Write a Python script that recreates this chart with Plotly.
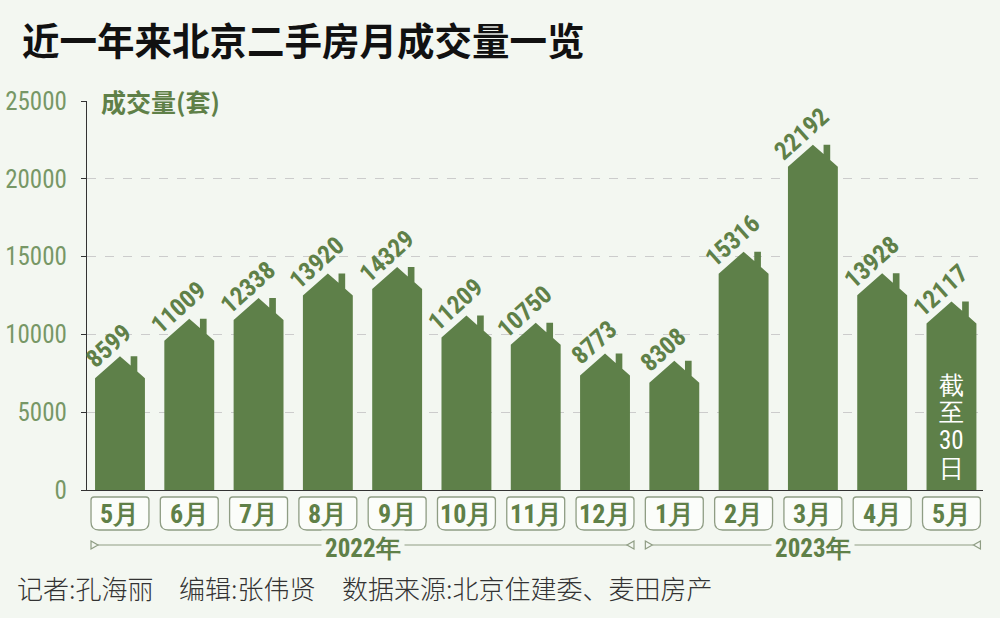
import plotly.graph_objects as go

months = ["5月", "6月", "7月", "8月", "9月", "10月", "11月", "12月", "1月", "2月", "3月", "4月", "5月"]
volumes = [8599, 11009, 12338, 13920, 14329, 11209, 10750, 8773, 8308, 15316, 22192, 13928, 12117]
years = ["2022年", "2023年"]
year_spans = [(0, 7), (8, 12)]
y_ticks = [0, 5000, 10000, 15000, 20000, 25000]
note_lines = ["截", "至", "30", "日"]

BG = "#f3f7f1"
BAR = "#5e8049"
GREEN = "#5f8048"
TICKGREEN = "#779766"
LINEC = "#8f9d84"
NARROW = "Liberation Sans Narrow, Arial Narrow, Roboto Condensed, Roboto, sans-serif"
CJK = "Noto Sans CJK SC, sans-serif"

# plot geometry (pixels)
L, T, B = 87, 101, 490
W = 896.5
H = B - T
XMIN, XMAX = -0.476, 12.455
YMAX = 25000

def px(i):
    return (i - XMIN) / (XMAX - XMIN)

def py(pix):
    return (B - pix) / H

HALF = 0.36
ROOF = 22 / H * YMAX
CH0, CH1 = 0.154, 0.25

xs, ys = [], []
for i, v in enumerate(volumes):
    e = v - ROOF
    pts = [(i - HALF, 0), (i - HALF, e), (i, v),
           (i + CH0, v - ROOF * CH0 / HALF), (i + CH0, v), (i + CH1, v),
           (i + CH1, v - ROOF * CH1 / HALF), (i + HALF, e), (i + HALF, 0)]
    for a, b in pts:
        xs.append(a); ys.append(b)
    xs.append(None); ys.append(None)

fig = go.Figure()
fig.add_trace(go.Scatter(x=xs, y=ys, mode="lines", fill="toself", fillcolor=BAR,
                         line=dict(width=0, color=BAR), hoverinfo="skip", showlegend=False))

ann = []
# value labels
for i, v in enumerate(volumes):
    ann.append(dict(x=i, y=v, xref="x", yref="y", text=str(v), textangle=-42, showarrow=False,
                    xanchor="center", yanchor="middle",
                    xshift=-11, yshift=11, font=dict(family=NARROW, size=25, color=GREEN, weight="bold")))
# month labels
shapes = []
for i, m in enumerate(months):
    ann.append(dict(x=i, y=py(514), xref="x", yref="paper", text=m, showarrow=False,
                    xanchor="center", yanchor="middle",
                    font=dict(family=NARROW, size=26, color=GREEN, weight="bold")))
    x0, x1 = px(i - 0.418), px(i + 0.418)
    yt, yb = py(497), py(530)
    rtx, rty = 3 / W, 3 / H
    rbx, rby = 8 / W, 8 / H
    path = (f"M {x0+rtx},{yt} L {x1-rtx},{yt} Q {x1},{yt} {x1},{yt-rty} "
            f"L {x1},{yb+rby} Q {x1},{yb} {x1-rbx},{yb} L {x0+rbx},{yb} "
            f"Q {x0},{yb} {x0},{yb+rby} L {x0},{yt-rty} Q {x0},{yt} {x0+rtx},{yt} Z")
    shapes.append(dict(type="path", xref="paper", yref="paper", path=path,
                       line=dict(color=LINEC, width=1.3), fillcolor="#fbfdfa", layer="below"))

# year brackets
yl = py(545)
for (a, b), yr in zip(year_spans, years):
    xa, xb = px(a - 0.418), px(b + 0.418)
    tw, th = 7 / W, 4 / H
    shapes.append(dict(type="line", xref="paper", yref="paper", x0=xa + tw, x1=xb - tw, y0=yl, y1=yl,
                       line=dict(color=LINEC, width=1.2)))
    shapes.append(dict(type="path", xref="paper", yref="paper",
                       path=f"M {xa},{yl+th} L {xa+tw},{yl} L {xa},{yl-th} Z",
                       line=dict(color=LINEC, width=1.2), fillcolor=BG))
    shapes.append(dict(type="path", xref="paper", yref="paper",
                       path=f"M {xb},{yl+th} L {xb-tw},{yl} L {xb},{yl-th} Z",
                       line=dict(color=LINEC, width=1.2), fillcolor=BG))
    ann.append(dict(x=(xa + xb) / 2, y=py(548), xref="paper", yref="paper", text=yr, showarrow=False,
                    xanchor="center", yanchor="middle", bgcolor=BG, borderpad=3,
                    font=dict(family=NARROW, size=25, color=GREEN, weight="bold")))

# note in last bar
last = len(volumes) - 1
for k, t in enumerate(note_lines):
    ann.append(dict(x=last, y=py(385 + 27.7 * k), xref="x", yref="paper", text=t, showarrow=False,
                    xanchor="center", yanchor="middle",
                    font=dict(family=NARROW, size=25, color="white")))

# title, axis title, footer
ann.append(dict(x=(20 - L) / W, y=py(38), xref="paper", yref="paper", xanchor="left", yanchor="middle",
                showarrow=False, text="近一年来北京二手房月成交量一览",
                font=dict(family=CJK, size=37.5, color="#111111", weight="bold")))
ann.append(dict(x=(96 - L) / W, y=1, xref="paper", yref="paper", xanchor="left", yanchor="middle",
                showarrow=False, text="成交量(套)", bgcolor=BG, borderpad=4,
                font=dict(family=CJK, size=25, color=GREEN, weight="bold")))
for xp, t in [(15, "记者:孔海丽"), (177, "编辑:张伟贤"), (340, "数据来源:北京住建委、麦田房产")]:
    ann.append(dict(x=(xp - L) / W, y=py(587), xref="paper", yref="paper", xanchor="left", yanchor="middle",
                    showarrow=False, text=t, font=dict(family=CJK, size=26, color="#333333", weight=300)))

fig.update_layout(
    width=1000, height=618, paper_bgcolor=BG, plot_bgcolor=BG,
    margin=dict(l=L, r=1000 - L - W, t=T, b=618 - B, autoexpand=False),
    showlegend=False, annotations=ann, shapes=shapes,
    xaxis=dict(range=[XMIN, XMAX], showgrid=False, zeroline=False, showticklabels=False,
               showline=True, linecolor="#333333", linewidth=1.2, ticks=""),
    yaxis=dict(range=[0, YMAX], tickvals=y_ticks, ticktext=[str(t) for t in y_ticks],
               showgrid=True, gridcolor="#cccccc", griddash="dash", gridwidth=1,
               zeroline=False, showline=True, linecolor="#333333", linewidth=1.2,
               ticks="outside", ticklen=5, tickcolor="#333333", ticklabelstandoff=9,
               tickfont=dict(family=NARROW, size=25, color=TICKGREEN, weight="normal")),
)
fig.write_html("out.html", config={"displayModeBar": False},
               post_script="document.body.style.margin='0px';")
